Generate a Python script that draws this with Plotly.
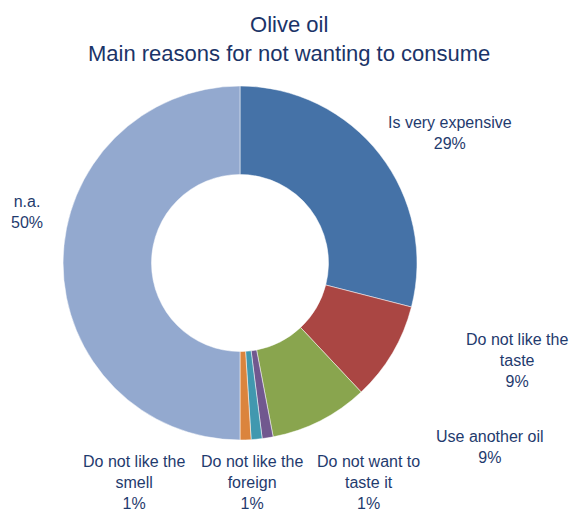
import plotly.graph_objects as go

# Survey shares, in drawing order (clockwise from 12 o'clock)
reasons = [
    "Is very expensive",
    "Do not like the taste",
    "Use another oil",
    "Do not want to taste it",
    "Do not like the foreign",
    "Do not like the smell",
    "n.a.",
]
shares = [29, 9, 9, 1, 1, 1, 50]
label_lines = [
    ["Is very expensive"],
    ["Do not like the", "taste"],
    ["Use another oil"],
    ["Do not want to", "taste it"],
    ["Do not like the", "foreign"],
    ["Do not like the", "smell"],
    ["n.a."],
]
colors = ["#4572A7", "#AA4643", "#89A54E", "#71588F", "#4198AF", "#DB843D", "#93A9CF"]

W, H = 574, 512
TEXT_COLOR = "#1F3B6E"
FONT = "Liberation Sans, Arial, sans-serif"

# pie geometry in pixels
cx, cy, r = 240, 263, 177

fig = go.Figure(
    go.Pie(
        labels=reasons,
        values=shares,
        sort=False,
        direction="clockwise",
        rotation=0,
        hole=0.5,
        marker=dict(colors=colors, line=dict(color="white", width=0.5)),
        textinfo="none",
        hoverinfo="label+percent",
        domain=dict(
            x=[(cx - r) / W, (cx + r) / W],
            y=[1 - (cy + r) / H, 1 - (cy - r) / H],
        ),
        showlegend=False,
    )
)

# label anchor points (pixel centre of first text line)
label_pos = [
    (450, 122),
    (517, 339),
    (490, 436),
    (368, 461),
    (252, 461),
    (134, 461),
    (27, 201),
]
for lines, v, (x, y) in zip(label_lines, shares, label_pos):
    text = "<br>".join(lines + [f"{v}%"])
    fig.add_annotation(
        x=x / W,
        y=1 - (y - 10) / H,
        xref="paper",
        yref="paper",
        text=text,
        showarrow=False,
        xanchor="center",
        yanchor="top",
        align="center",
        font=dict(family=FONT, size=16, color=TEXT_COLOR),
    )

fig.add_annotation(
    x=289 / W,
    y=1 - 10 / H,
    xref="paper",
    yref="paper",
    text="Olive oil<br>Main reasons for not wanting to consume",
    showarrow=False,
    xanchor="center",
    yanchor="top",
    align="center",
    font=dict(family=FONT, size=22, color="#1B3468"),
)

fig.update_layout(
    width=W,
    height=H,
    margin=dict(l=0, r=0, t=0, b=0),
    paper_bgcolor="white",
    plot_bgcolor="white",
)

fig.write_html("out.html")
